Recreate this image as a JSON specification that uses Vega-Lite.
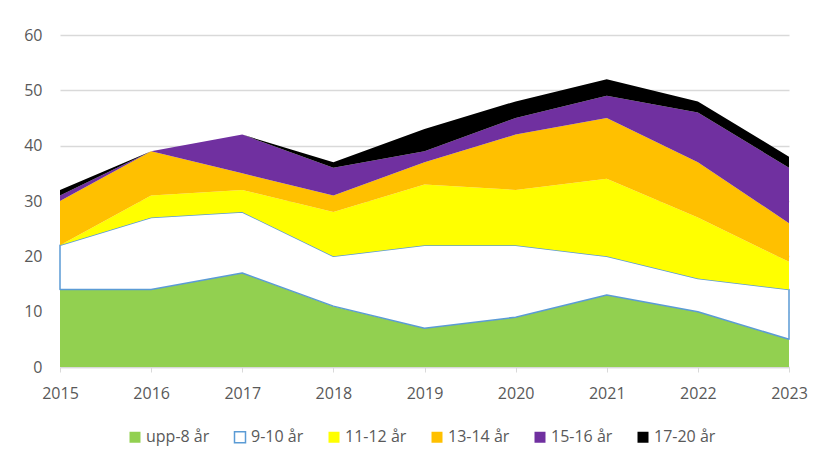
{
  "$schema": "https://vega.github.io/schema/vega-lite/v6.json",
  "width": 729,
  "height": 332,
  "autosize": {"type": "none"},
  "padding": {"left": 60, "top": 35, "right": 32, "bottom": 94},
  "background": "white",
  "config": {
    "view": {"stroke": null},
    "font": "Open Sans"
  },
  "data": {
    "values": [
      {"year": 2015, "group": "upp-8 år", "k": 1, "value": 14},
      {"year": 2015, "group": "9-10 år", "k": 2, "value": 8},
      {"year": 2015, "group": "11-12 år", "k": 3, "value": 0},
      {"year": 2015, "group": "13-14 år", "k": 4, "value": 8},
      {"year": 2015, "group": "15-16 år", "k": 5, "value": 1},
      {"year": 2015, "group": "17-20 år", "k": 6, "value": 1},
      {"year": 2016, "group": "upp-8 år", "k": 1, "value": 14},
      {"year": 2016, "group": "9-10 år", "k": 2, "value": 13},
      {"year": 2016, "group": "11-12 år", "k": 3, "value": 4},
      {"year": 2016, "group": "13-14 år", "k": 4, "value": 8},
      {"year": 2016, "group": "15-16 år", "k": 5, "value": 0},
      {"year": 2016, "group": "17-20 år", "k": 6, "value": 0},
      {"year": 2017, "group": "upp-8 år", "k": 1, "value": 17},
      {"year": 2017, "group": "9-10 år", "k": 2, "value": 11},
      {"year": 2017, "group": "11-12 år", "k": 3, "value": 4},
      {"year": 2017, "group": "13-14 år", "k": 4, "value": 3},
      {"year": 2017, "group": "15-16 år", "k": 5, "value": 7},
      {"year": 2017, "group": "17-20 år", "k": 6, "value": 0},
      {"year": 2018, "group": "upp-8 år", "k": 1, "value": 11},
      {"year": 2018, "group": "9-10 år", "k": 2, "value": 9},
      {"year": 2018, "group": "11-12 år", "k": 3, "value": 8},
      {"year": 2018, "group": "13-14 år", "k": 4, "value": 3},
      {"year": 2018, "group": "15-16 år", "k": 5, "value": 5},
      {"year": 2018, "group": "17-20 år", "k": 6, "value": 1},
      {"year": 2019, "group": "upp-8 år", "k": 1, "value": 7},
      {"year": 2019, "group": "9-10 år", "k": 2, "value": 15},
      {"year": 2019, "group": "11-12 år", "k": 3, "value": 11},
      {"year": 2019, "group": "13-14 år", "k": 4, "value": 4},
      {"year": 2019, "group": "15-16 år", "k": 5, "value": 2},
      {"year": 2019, "group": "17-20 år", "k": 6, "value": 4},
      {"year": 2020, "group": "upp-8 år", "k": 1, "value": 9},
      {"year": 2020, "group": "9-10 år", "k": 2, "value": 13},
      {"year": 2020, "group": "11-12 år", "k": 3, "value": 10},
      {"year": 2020, "group": "13-14 år", "k": 4, "value": 10},
      {"year": 2020, "group": "15-16 år", "k": 5, "value": 3},
      {"year": 2020, "group": "17-20 år", "k": 6, "value": 3},
      {"year": 2021, "group": "upp-8 år", "k": 1, "value": 13},
      {"year": 2021, "group": "9-10 år", "k": 2, "value": 7},
      {"year": 2021, "group": "11-12 år", "k": 3, "value": 14},
      {"year": 2021, "group": "13-14 år", "k": 4, "value": 11},
      {"year": 2021, "group": "15-16 år", "k": 5, "value": 4},
      {"year": 2021, "group": "17-20 år", "k": 6, "value": 3},
      {"year": 2022, "group": "upp-8 år", "k": 1, "value": 10},
      {"year": 2022, "group": "9-10 år", "k": 2, "value": 6},
      {"year": 2022, "group": "11-12 år", "k": 3, "value": 11},
      {"year": 2022, "group": "13-14 år", "k": 4, "value": 10},
      {"year": 2022, "group": "15-16 år", "k": 5, "value": 9},
      {"year": 2022, "group": "17-20 år", "k": 6, "value": 2},
      {"year": 2023, "group": "upp-8 år", "k": 1, "value": 5},
      {"year": 2023, "group": "9-10 år", "k": 2, "value": 9},
      {"year": 2023, "group": "11-12 år", "k": 3, "value": 5},
      {"year": 2023, "group": "13-14 år", "k": 4, "value": 7},
      {"year": 2023, "group": "15-16 år", "k": 5, "value": 10},
      {"year": 2023, "group": "17-20 år", "k": 6, "value": 2}
    ]
  },
  "mark": {"type": "area", "strokeWidth": 1.5, "strokeJoin": "round"},
  "encoding": {
    "x": {
      "field": "year",
      "type": "quantitative",
      "scale": {"domain": [2015, 2023], "nice": false, "zero": false},
      "axis": {
        "title": null,
        "values": [2015, 2016, 2017, 2018, 2019, 2020, 2021, 2022, 2023],
        "format": "d",
        "grid": false,
        "domainColor": "#d9d9d9",
        "domainWidth": 1.5,
        "tickColor": "#d9d9d9",
        "tickSize": 5,
        "labelColor": "#595959",
        "labelFontSize": 16,
        "labelPadding": 13,
        "labelFlush": false
      }
    },
    "y": {
      "field": "value",
      "type": "quantitative",
      "stack": "zero",
      "scale": {"domain": [0, 60], "nice": false},
      "axis": {
        "title": null,
        "values": [0, 10, 20, 30, 40, 50, 60],
        "domain": false,
        "ticks": false,
        "gridColor": "#d9d9d9",
        "gridWidth": 1.5,
        "labelColor": "#595959",
        "labelFontSize": 16,
        "labelPadding": 18
      }
    },
    "order": {"field": "k", "type": "quantitative"},
    "fill": {
      "field": "group",
      "type": "nominal",
      "scale": {
        "domain": ["upp-8 år", "9-10 år", "11-12 år", "13-14 år", "15-16 år", "17-20 år"],
        "range": ["#92d050", "#ffffff", "#ffff00", "#ffc000", "#7030a0", "#000000"]
      },
      "legend": {
        "title": null,
        "orient": "none",
        "direction": "horizontal",
        "legendX": 67,
        "legendY": 394,
        "symbolType": "square",
        "symbolSize": 121,
        "symbolStrokeWidth": 1.5,
        "labelFontSize": 16,
        "labelColor": "#595959",
        "labelOffset": 3,
        "columnPadding": 21
      }
    },
    "stroke": {
      "field": "group",
      "type": "nominal",
      "scale": {
        "domain": ["upp-8 år", "9-10 år", "11-12 år", "13-14 år", "15-16 år", "17-20 år"],
        "range": ["transparent", "#5b9bd5", "transparent", "transparent", "transparent", "transparent"]
      },
      "legend": {
        "title": null,
        "orient": "none",
        "direction": "horizontal",
        "legendX": 67,
        "legendY": 394,
        "symbolType": "square",
        "symbolSize": 121,
        "symbolStrokeWidth": 1.5,
        "labelFontSize": 16,
        "labelColor": "#595959",
        "labelOffset": 3,
        "columnPadding": 21
      }
    }
  }
}
